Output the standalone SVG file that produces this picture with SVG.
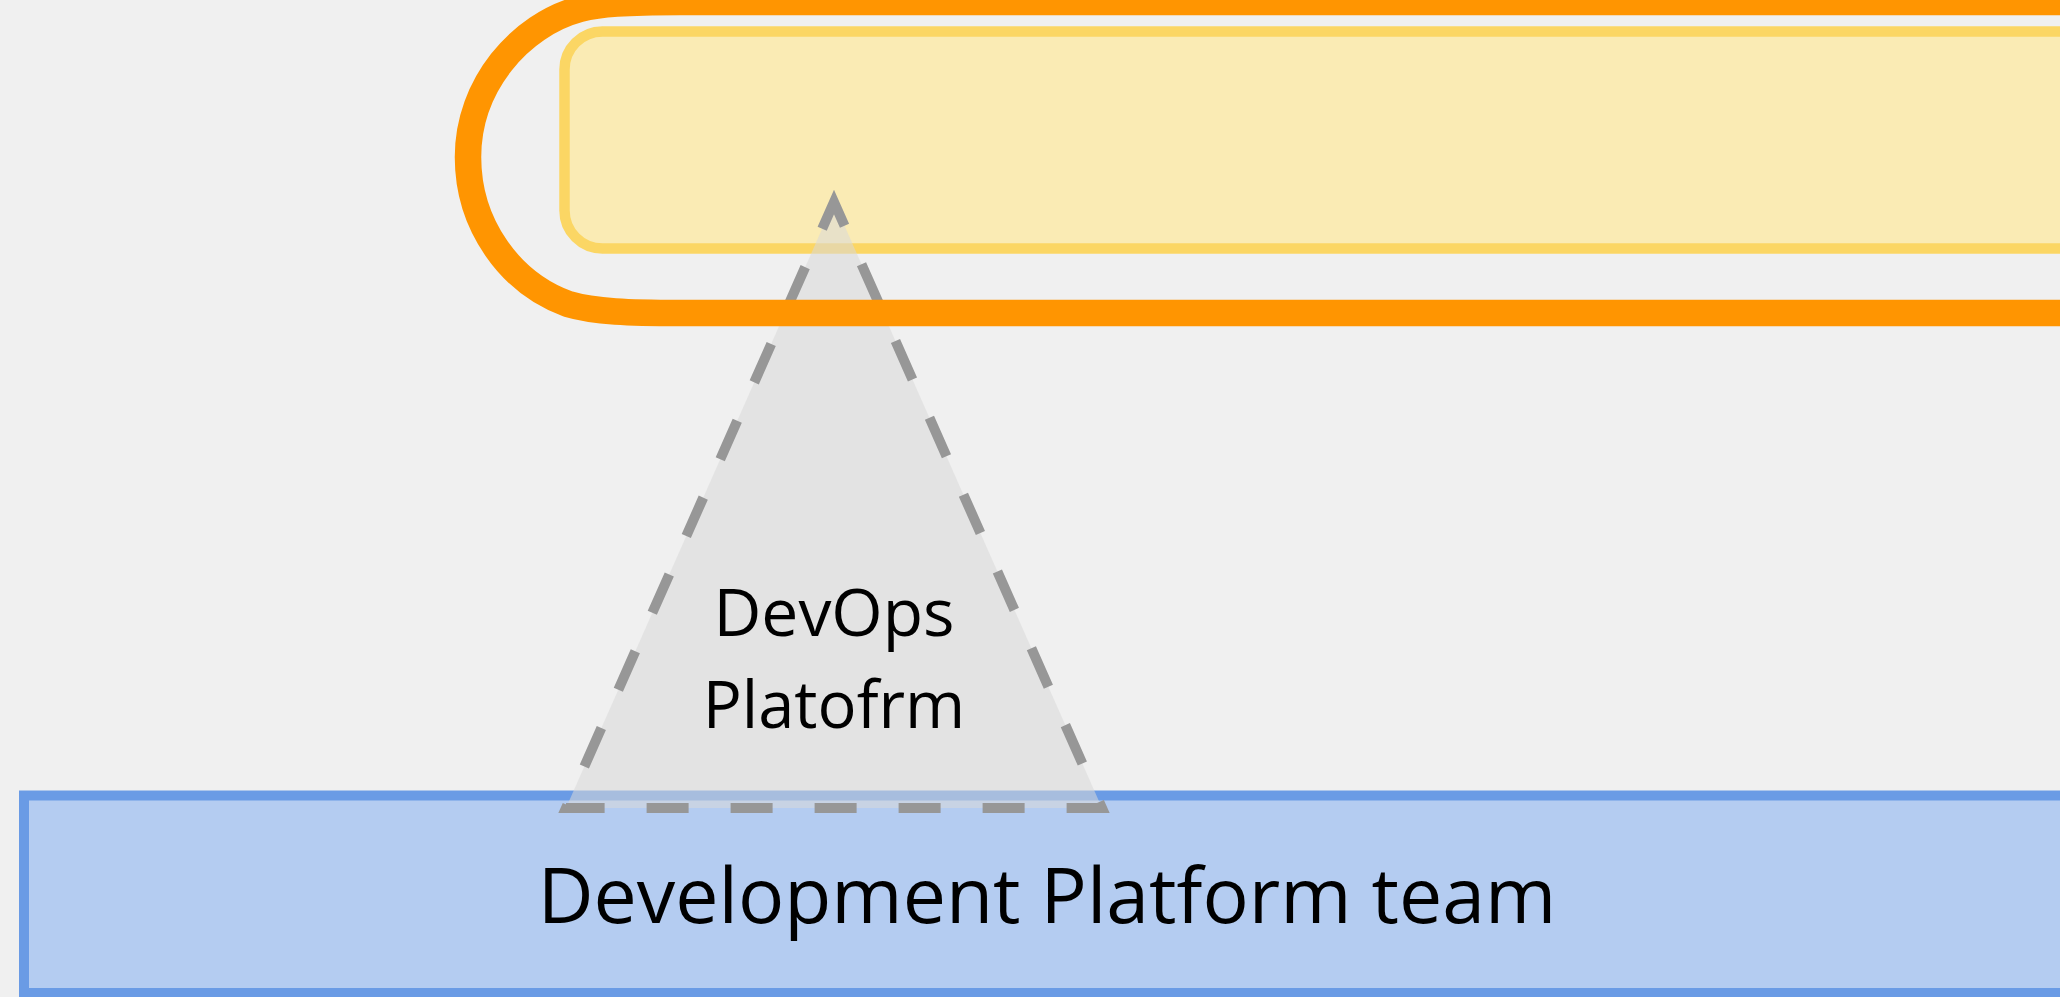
<svg xmlns="http://www.w3.org/2000/svg" width="2060" height="997" viewBox="0 0 2060 997">
  <style>
    .lbl { font-family: "Open Sans", "Noto Sans", "Liberation Sans", sans-serif; fill: #000000; text-anchor: middle; }
  </style>
  <rect x="0" y="0" width="2060" height="997" fill="#f0f0f0"/>
  <g id="team-box">
    <rect x="24" y="795.5" width="2100" height="197.5" fill="#b4ccf1" stroke="#6a9be5" stroke-width="10"/>
    <text class="lbl" x="1047" y="923" font-size="77">Development Platform team</text>
  </g>
  <g id="yellow-box">
    <rect x="564.5" y="31.5" width="1600" height="217" rx="38" ry="38" fill="#faebb4" stroke="#fbd664" stroke-width="10.5"/>
  </g>
  <g id="devops-platform">
    <path d="M834,202 L1102,808 L566,808 Z" fill="#d9d9d9" fill-opacity="0.55" stroke="#979797" stroke-width="10" stroke-dasharray="42 42" stroke-dashoffset="16"/>
    <text class="lbl" x="834" y="636" font-size="66">DevOps</text>
    <text class="lbl" x="834" y="728" font-size="65">Platofrm</text>
  </g>
  <g id="orange-outline">
    <path d="M2080,2 L680,2 C625,2 600,4 580,9 C520,25 468,85 468,157 C468,225 510,283 568,304 C595,312 630,313 680,313 L2080,313" fill="none" stroke="#ff9501" stroke-width="26.5"/>
  </g>
  <g id="connectors"/>
</svg>
